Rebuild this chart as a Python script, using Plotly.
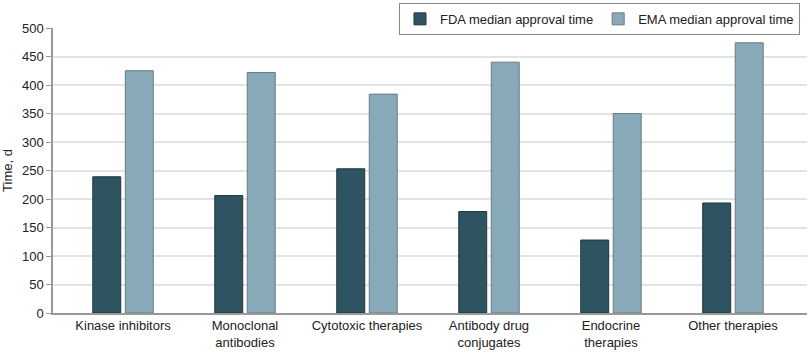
import plotly.graph_objects as go

categories = ["Kinase inhibitors", "Monoclonal<br>antibodies", "Cytotoxic therapies",
              "Antibody drug<br>conjugates", "Endocrine<br>therapies", "Other therapies"]
fda_values = [239, 206, 253, 178, 128, 193]
ema_values = [425, 422, 384, 440, 350, 474]
y_ticks = [0, 50, 100, 150, 200, 250, 300, 350, 400, 450, 500]

font_family = "Liberation Sans, Arial, sans-serif"

fig = go.Figure()
fig.add_trace(go.Bar(
    x=categories, y=fda_values, name="FDA median approval time",
    marker=dict(color="#2E5462", line=dict(color="#1E3640", width=1)),
))
fig.add_trace(go.Bar(
    x=categories, y=ema_values, name="EMA median approval time",
    marker=dict(color="#87A9B8", line=dict(color="#6A7A82", width=1)),
))

fig.update_layout(
    width=810, height=354,
    margin=dict(l=53, r=3, t=28, b=41, autoexpand=False),
    paper_bgcolor="white", plot_bgcolor="white",
    barmode="group", bargap=0.467, bargroupgap=0.14,
    font=dict(family=font_family, size=13, color="#222"),
    showlegend=True,
    legend=dict(
        orientation="h", x=0.9907, y=1.088, xanchor="right", yanchor="top",
        bordercolor="#888", borderwidth=1, bgcolor="white",
        font=dict(size=13, color="#222"), itemwidth=30,
    ),
    xaxis=dict(
        type="category", range=[-0.574, 5.607],
        showline=True, linecolor="#999", linewidth=1.5,
        ticks="", showgrid=False, tickfont=dict(size=13),
    ),
    yaxis=dict(
        range=[0, 500], tickvals=y_ticks,
        showline=True, linecolor="#999", linewidth=1.5,
        ticks="outside", ticklen=5, tickcolor="#999",
        showgrid=True, gridcolor="#E3E3E3", gridwidth=1.5,
        zeroline=False, tickfont=dict(size=13),
        title=dict(text="Time, d", font=dict(size=13), standoff=8),
    ),
)

fig.write_html("out.html")
